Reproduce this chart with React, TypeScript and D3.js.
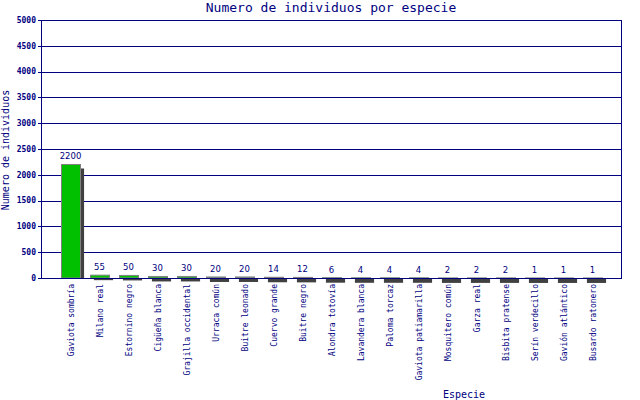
import * as d3 from 'd3'
import * as React from 'react'

// Data
const especies: string[] = [
  'Gaviota sombría', 'Milano real', 'Estornino negro', 'Cigüeña blanca',
  'Grajilla occidental', 'Urraca común', 'Buitre leonado', 'Cuervo grande',
  'Buitre negro', 'Alondra totovía', 'Lavandera blanca', 'Paloma torcaz',
  'Gaviota patiamarilla', 'Mosquitero común', 'Garza real', 'Bisbita pratense',
  'Serín verdecillo', 'Gavión atlántico', 'Busardo ratonero',
]
const individuos: number[] = [2200, 55, 50, 30, 30, 20, 20, 14, 12, 6, 4, 4, 4, 2, 2, 2, 1, 1, 1]
const yTicks: number[] = [0, 500, 1000, 1500, 2000, 2500, 3000, 3500, 4000, 4500, 5000]

const NAVY = '#000080'
const GREEN = '#00c000'
const SHADOW = '#404040'
const MONO = '"DejaVu Sans Mono", monospace'

const W = 640
const H = 400
const plot = { left: 41, right: 621, top: 20, bottom: 278 }

export default function App() {
  const y = d3.scaleLinear().domain([0, 5000]).range([plot.bottom, plot.top])
  const x = d3.scaleBand<string>()
    .domain(especies)
    .range([56, 607])
    .paddingInner(0.34)
    .paddingOuter(0.17)
  const bw = x.bandwidth()
  const y0 = y(0)
  const sh = 4

  return (
    <svg width={W} height={H} style={{ position: 'absolute', left: 0, top: 0, background: '#fff' }}>
      {/* title */}
      <text x={331} y={12} textAnchor="middle" fill={NAVY} fontFamily={MONO} fontSize={13}>
        Numero de individuos por especie
      </text>

      {/* grid */}
      {yTicks.filter(t => t > 0).map(t => (
        <line key={'g' + t} x1={plot.left} x2={plot.right} y1={Math.round(y(t)) + 0.5} y2={Math.round(y(t)) + 0.5}
          stroke={NAVY} strokeWidth={1} />
      ))}
      <line x1={plot.right + 0.5} x2={plot.right + 0.5} y1={plot.top} y2={plot.bottom} stroke={NAVY} />

      {/* shadows */}
      {especies.map((e, i) => {
        const v = individuos[i]
        const h = y0 - y(v)
        const top = Math.min(y(v) + sh, y0 + 1)
        const bottom = y0 + Math.max(0, 5 - h)
        return (
          <rect key={'s' + e} x={x(e)! + sh} y={top} width={bw} height={Math.max(0, bottom - top)} fill={SHADOW} />
        )
      })}

      {/* bars */}
      {especies.map((e, i) => {
        const v = individuos[i]
        return (
          <rect key={'b' + e} x={Math.round(x(e)!) + 0.5} y={y(v)} width={Math.round(bw)} height={y0 - y(v)}
            fill={GREEN} stroke="#808080" strokeWidth={1} />
        )
      })}

      {/* value labels */}
      {especies.map((e, i) => (
        <text key={'v' + e} x={x(e)! + bw / 2} y={y(individuos[i]) - 5} textAnchor="middle"
          fill={NAVY} fontFamily='"DejaVu Sans", sans-serif' fontSize={8.5}>
          {individuos[i]}
        </text>
      ))}

      {/* axes */}
      <line x1={plot.left + 0.5} x2={plot.left + 0.5} y1={plot.top} y2={plot.bottom + 1} stroke={NAVY} />
      <line x1={plot.left} x2={plot.right + 1} y1={plot.bottom + 0.5} y2={plot.bottom + 0.5} stroke={NAVY} />
      {yTicks.map(t => (
        <g key={'t' + t}>
          <line x1={plot.left - 3} x2={plot.left} y1={Math.round(y(t)) + 0.5} y2={Math.round(y(t)) + 0.5} stroke={NAVY} />
          <text x={36} y={y(t)} dy="0.35em" textAnchor="end" fill={NAVY} fontFamily={MONO}
            fontWeight="bold" fontSize={8}>
            {t}
          </text>
        </g>
      ))}

      {/* category labels */}
      {especies.map(e => (
        <text key={'c' + e} transform={`translate(${x(e)! + bw / 2 + 3},284) rotate(-90)`} textAnchor="end"
          fill={NAVY} fontFamily={MONO} fontSize={8}>
          {e}
        </text>
      ))}

      {/* axis titles */}
      <text transform="translate(9,150) rotate(-90)" textAnchor="middle" fill={NAVY}
        fontFamily={MONO} fontSize={10}>
        Numero de individuos
      </text>
      <text x={464} y={398} textAnchor="middle" fill={NAVY} fontFamily={MONO} fontSize={10}>
        Especie
      </text>
    </svg>
  )
}
